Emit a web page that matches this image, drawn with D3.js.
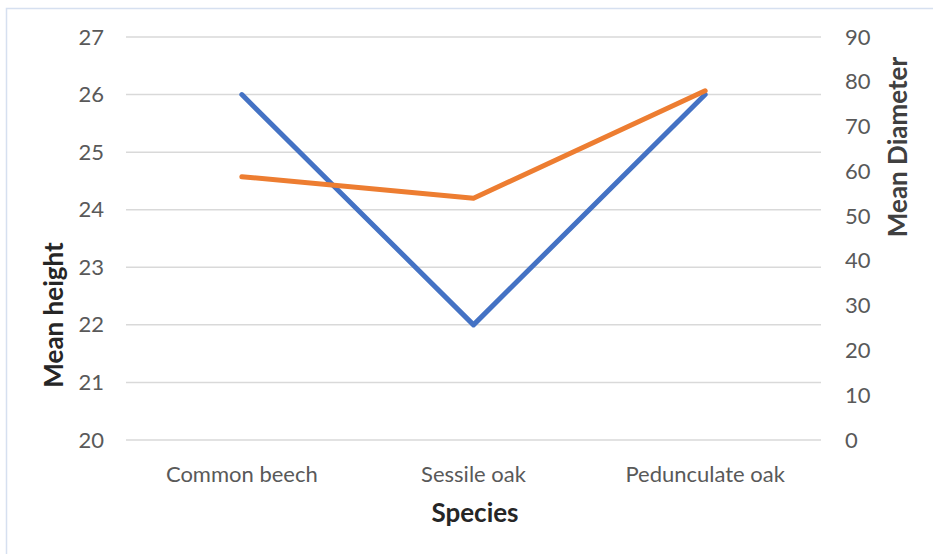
<!DOCTYPE html>
<html>
<head>
<meta charset="utf-8">
<script src="https://cdn.jsdelivr.net/npm/d3@7"></script>
<style>
  html, body { margin: 0; padding: 0; background: #fff; }
  svg { display: block; }
</style>
</head>
<body>
<div id="chart"></div>
<script>
// Tree measurements per species
const species = ["Common beech", "Sessile oak", "Pedunculate oak"];
const meanHeight = [26, 22, 26];
const meanDiameter = [58.8, 54, 78];
const heightTicks = [20, 21, 22, 23, 24, 25, 26, 27];
const diameterTicks = [0, 10, 20, 30, 40, 50, 60, 70, 80, 90];

const W = 933, H = 554;
const plot = { left: 126, right: 821, top: 37, bottom: 440 };
const font = "Lato, 'Open Sans', sans-serif";
const tickSize = 22;
const titleSize = 26;

const svg = d3.select("#chart").append("svg")
  .attr("width", W).attr("height", H);

// chart frame
svg.append("path")
  .attr("d", `M6.5,${H} V8.5 H${W}`)
  .attr("fill", "none").attr("stroke", "#d6e0f0").attr("stroke-width", 1.5);

const x = d3.scaleBand().domain(species).range([plot.left, plot.right]);
const yL = d3.scaleLinear().domain([20, 27]).range([plot.bottom, plot.top]);
const yR = d3.scaleLinear().domain([0, 90]).range([plot.bottom, plot.top]);

// gridlines
svg.append("g").selectAll("line").data(heightTicks).join("line")
  .attr("x1", plot.left).attr("x2", plot.right)
  .attr("y1", d => yL(d)).attr("y2", d => yL(d))
  .attr("stroke", "#d9d9d9").attr("stroke-width", 1.5);

function styleTicks(g) {
  g.select(".domain").remove();
  g.selectAll("text").attr("font-family", font).attr("font-size", tickSize).attr("fill", "#595959");
}

// left axis
svg.append("g").attr("transform", `translate(${plot.left},0)`)
  .call(d3.axisLeft(yL).tickValues(heightTicks).tickFormat(d3.format("d")).tickSize(0).tickPadding(22))
  .call(styleTicks);

// right axis
svg.append("g").attr("transform", `translate(${plot.right},0)`)
  .call(d3.axisRight(yR).tickValues(diameterTicks).tickFormat(d3.format("d")).tickSize(0).tickPadding(24))
  .call(styleTicks);

// category axis
svg.append("g").attr("transform", `translate(0,${plot.bottom})`)
  .call(d3.axisBottom(x).tickSize(0).tickPadding(26))
  .call(styleTicks);

const cx = d => x(d) + x.bandwidth() / 2;

// series lines
svg.append("path")
  .datum(species.map((s, i) => [cx(s), yL(meanHeight[i])]))
  .attr("d", d3.line())
  .attr("fill", "none").attr("stroke", "#4472c4").attr("stroke-width", 5)
  .attr("stroke-linecap", "round").attr("stroke-linejoin", "round");

svg.append("path")
  .datum(species.map((s, i) => [cx(s), yR(meanDiameter[i])]))
  .attr("d", d3.line())
  .attr("fill", "none").attr("stroke", "#ed7d31").attr("stroke-width", 5)
  .attr("stroke-linecap", "round").attr("stroke-linejoin", "round");

// axis titles
svg.append("text")
  .attr("transform", "translate(63,315) rotate(-90)")
  .attr("text-anchor", "middle")
  .attr("font-family", font).attr("font-size", titleSize).attr("font-weight", "bold")
  .attr("fill", "#262626").text("Mean height");

svg.append("text")
  .attr("transform", "translate(907,147) rotate(-90)")
  .attr("text-anchor", "middle")
  .attr("font-family", font).attr("font-size", titleSize).attr("font-weight", "bold")
  .attr("fill", "#404040").text("Mean Diameter");

svg.append("text")
  .attr("x", 475).attr("y", 522)
  .attr("text-anchor", "middle")
  .attr("font-family", font).attr("font-size", titleSize).attr("font-weight", "bold")
  .attr("fill", "#262626").text("Species");
</script>
</body>
</html>
